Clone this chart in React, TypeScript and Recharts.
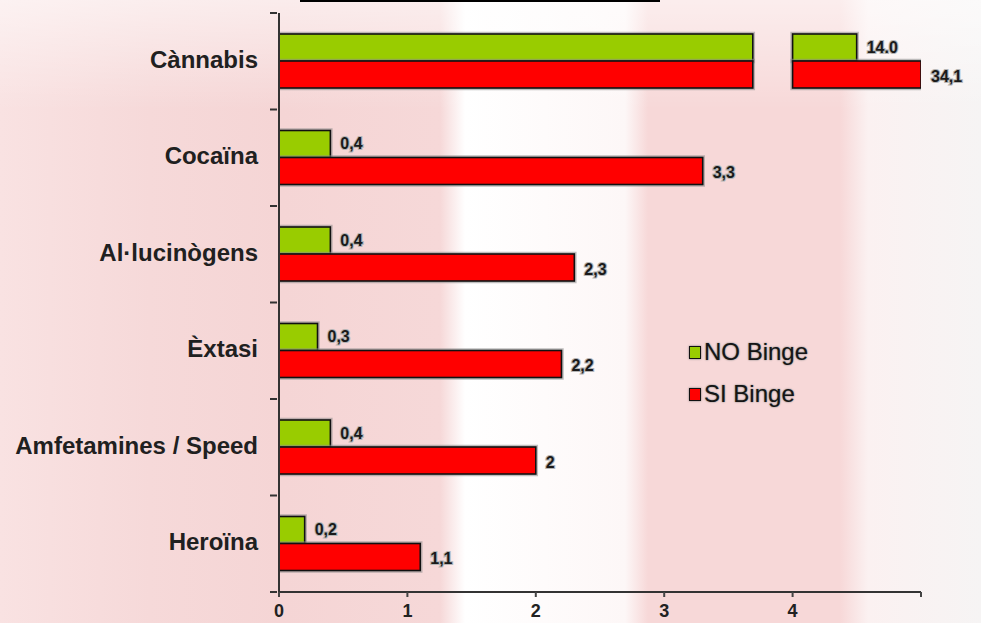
import { BarChart, Bar, XAxis, YAxis, LabelList } from 'recharts'

const CATEGORIES = ['Cànnabis', 'Cocaïna', 'Al·lucinògens', 'Èxtasi', 'Amfetamines / Speed', 'Heroïna']
const NO_BINGE = [14.0, 0.4, 0.4, 0.3, 0.4, 0.2]
const SI_BINGE = [34.1, 3.3, 2.3, 2.2, 2.0, 1.1]
const NO_LABELS = ['14.0', '0,4', '0,4', '0,3', '0,4', '0,2']
const SI_LABELS = ['34,1', '3,3', '2,3', '2,2', '2', '1,1']
const X_TICKS = [0, 1, 2, 3, 4, 5]
const X_TICK_LABELS = ['0', '1', '2', '3', '4', '']
const SERIES = [
  { name: 'NO Binge', color: '#99cc00' },
  { name: 'SI Binge', color: '#ff0000' },
]

// the axis is broken: above 4 the values are log-compressed into the last unit
const AXIS_BREAK = 4
const GAP_FROM = 3.69
const compress = (v: number) =>
  v <= AXIS_BREAK ? v : AXIS_BREAK + Math.log(1 + (v - AXIS_BREAK) / 10) / Math.log(1 + 30.1 / 10)

const data = CATEGORIES.map((name, i) => ({
  name,
  no: NO_BINGE[i],
  si: SI_BINGE[i],
}))

const FONT = '"Liberation Sans", Arial, sans-serif'

const TOP = 13
const BOTTOM_AXIS = 31
const HEIGHT = 623
const BAND = (HEIGHT - TOP - BOTTOM_AXIS) / CATEGORIES.length

function BrokenBar(props: any) {
  const { x, y, width, height, fill, rawValue } = props
  if (!width || width <= 0) return null
  const ppu = width / compress(rawValue)
  const parts =
    rawValue > AXIS_BREAK
      ? [
          [x, GAP_FROM * ppu],
          [x + AXIS_BREAK * ppu, width - AXIS_BREAK * ppu],
        ]
      : [[x, width]]
  return (
    <g>
      {parts.map(([px, pw], k) => (
        <g key={k}>
          <rect x={px} y={y} width={pw} height={height} fill="none" stroke="#8a8a8a" strokeOpacity={0.55} strokeWidth={4.5} />
          <rect x={px} y={y} width={pw} height={height} fill={fill} stroke="#111" strokeWidth={1.6} />
        </g>
      ))}
    </g>
  )
}

function makeValueLabel(labels: string[], dy: number) {
  return (props: any) => {
    const { x, y, width, height, index } = props
    return (
      <text
        x={x + width + 10}
        y={y + height / 2 + dy}
        fontFamily={FONT}
        fontWeight="bold"
        fontSize={16}
        fill="#1a1a1a"
        stroke="#b5b5b5"
        strokeWidth={2.2}
        paintOrder="stroke"
        dominantBaseline="middle"
      >
        {labels[index]}
      </text>
    )
  }
}

function CategoryTick(props: any) {
  const { x, y, payload, index } = props
  const last = index === CATEGORIES.length - 1
  return (
    <g>
      <line x1={x - 1} x2={x + 6} y1={y - BAND / 2} y2={y - BAND / 2} stroke="#333" strokeWidth={2} />
      {last && <line x1={x - 1} x2={x + 6} y1={y + BAND / 2} y2={y + BAND / 2} stroke="#333" strokeWidth={2} />}
      <text
        x={x - 13}
        y={y}
        textAnchor="end"
        dominantBaseline="middle"
        fontFamily={FONT}
        fontWeight="bold"
        fontSize={24}
        fill="#202020"
      >
        {payload.value}
      </text>
    </g>
  )
}

function LegendBox() {
  return (
    <div style={{ position: 'absolute', left: 689, top: 331, fontFamily: FONT }}>
      {SERIES.map((s) => (
        <div key={s.name} style={{ display: 'flex', alignItems: 'center', height: 42 }}>
          <span
            style={{
              width: 10,
              height: 11,
              background: s.color,
              border: '1.5px solid #111',
              boxShadow: '0 0 2px #777',
              marginRight: 3,
            }}
          />
          <span style={{ fontSize: 24, color: '#151515', textShadow: '0 0 2px #888, 0 0 1px #999' }}>{s.name}</span>
        </div>
      ))}
    </div>
  )
}

export default function App() {
  return (
    <div
      style={{
        position: 'absolute',
        left: 0,
        top: 0,
        width: 981,
        height: 623,
        overflow: 'hidden',
        background:
          'linear-gradient(180deg, rgba(255,255,255,0.55) 0px, rgba(255,255,255,0) 110px), linear-gradient(90deg, #f9e2e2 0px, #f6d9d9 150px, #f5d5d5 280px, #f6d8d8 440px, #ffffff 465px, #fdf7f7 625px, #f7d8d8 648px, #f7d8d8 840px, #fbf1f1 868px, #f6f4f4 981px)',
      }}
    >
      <div style={{ position: 'absolute', left: 300, top: 0, width: 360, height: 2, background: '#000' }} />
      <BarChart
        width={981}
        height={623}
        data={data}
        layout="vertical"
        margin={{ top: TOP, right: 60, bottom: 0, left: 0 }}
        barSize={27}
        barGap={0}
      >
        <XAxis
          type="number"
          domain={[0, 5]}
          ticks={X_TICKS}
          interval={0}
          height={BOTTOM_AXIS}
          axisLine={{ stroke: '#333', strokeWidth: 2 }}
          tickLine={{ stroke: '#444', strokeWidth: 2 }}
          tickSize={5}
          tickFormatter={(v) => X_TICK_LABELS[X_TICKS.indexOf(v)]}
          tick={{ fontFamily: FONT, fontWeight: 'bold', fontSize: 18, fill: '#222', dy: 5 }}
          allowDataOverflow
        />
        <YAxis
          type="category"
          dataKey="name"
          width={279}
          axisLine={{ stroke: '#333', strokeWidth: 2 }}
          tickLine={false}
          tick={<CategoryTick />}
          interval={0}
        />
        <Bar
          name={SERIES[0].name}
          dataKey={(d: any) => compress(d.no)}
          fill={SERIES[0].color}
          isAnimationActive={false}
          shape={(p: any) => <BrokenBar {...p} rawValue={p.payload.no} />}
        >
          <LabelList content={makeValueLabel(NO_LABELS, 1)} />
        </Bar>
        <Bar
          name={SERIES[1].name}
          dataKey={(d: any) => compress(d.si)}
          fill={SERIES[1].color}
          isAnimationActive={false}
          shape={(p: any) => <BrokenBar {...p} rawValue={p.payload.si} />}
        >
          <LabelList content={makeValueLabel(SI_LABELS, 3)} />
        </Bar>
      </BarChart>
      <LegendBox />
    </div>
  )
}
